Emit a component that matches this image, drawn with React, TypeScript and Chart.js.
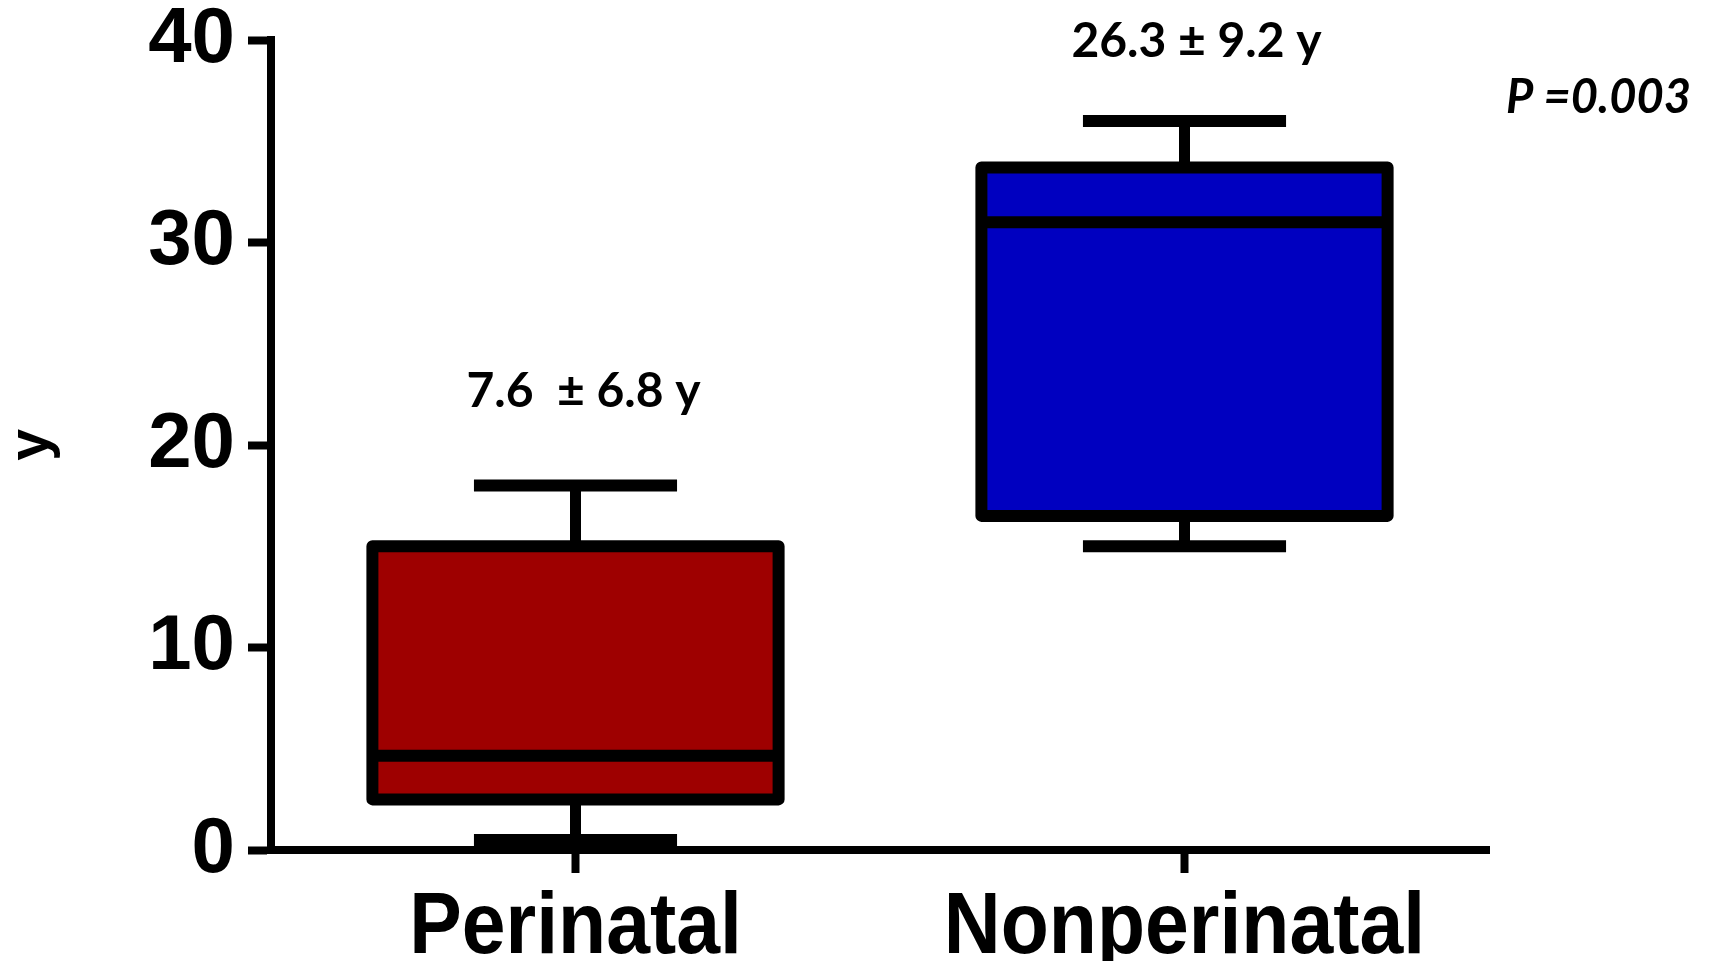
import React, { useEffect, useRef } from "react";
import { Chart, registerables } from "chart.js";

Chart.register(...registerables);

// ---- Data ----
const categories = ["Perinatal", "Nonperinatal"];
const whiskerMin = [0.5, 15];
const quartile1 = [2.5, 16.5];
const medians = [4.65, 31];
const quartile3 = [15, 33.7];
const whiskerMax = [18, 36];
const boxColors = ["#9e0000", "#0000c0"];
const summaryLabels = ["7.6  \u00b1 6.8 y", "26.3 \u00b1 9.2 y"];
const yTickValues = [0, 10, 20, 30, 40];
const yAxisTitle = "y";
const pValueLabel = "P =0.003";

const boxWhiskerPlugin = {
  id: "boxWhisker",
  afterDatasetsDraw(chart: any) {
    const ctx = chart.ctx;
    const ys = chart.scales.y;
    const meta = chart.getDatasetMeta(0);
    const line = (x1: number, y1: number, x2: number, y2: number) => {
      ctx.beginPath();
      ctx.moveTo(x1, y1);
      ctx.lineTo(x2, y2);
      ctx.stroke();
    };
    ctx.save();
    ctx.strokeStyle = "#000";
    meta.data.forEach((el: any, i: number) => {
      const { x, width } = el.getProps(["x", "width"], true);
      const half = width / 2;
      const pMin = ys.getPixelForValue(whiskerMin[i]);
      const pQ1 = ys.getPixelForValue(quartile1[i]);
      const pMed = ys.getPixelForValue(medians[i]);
      const pQ3 = ys.getPixelForValue(quartile3[i]);
      const pMax = ys.getPixelForValue(whiskerMax[i]);
      ctx.lineCap = "butt";
      ctx.lineWidth = 11;
      line(x, pMax, x, pQ3);
      line(x, pQ1, x, pMin);
      ctx.lineWidth = 12;
      line(x - half / 2, pMax, x + half / 2, pMax);
      line(x - half / 2, pMin, x + half / 2, pMin);
      ctx.lineJoin = "round";
      ctx.strokeRect(x - half, pQ3, width, pQ1 - pQ3);
      line(x - half, pMed, x + half, pMed);
    });
    ctx.restore();
  },
};

const annotationPlugin = {
  id: "annotations",
  afterDraw(chart: any) {
    const ctx = chart.ctx;
    const xs = chart.scales.x;
    const ys = chart.scales.y;
    const opts = chart.options.plugins.annotations;
    ctx.save();
    ctx.fillStyle = "#000";
    ctx.textBaseline = "alphabetic";
    ctx.textAlign = "center";

    // condensed category labels under the x axis
    ctx.font = opts.catFont;
    categories.forEach((txt, i) => {
      const px = xs.getPixelForValue(i);
      ctx.save();
      ctx.translate(px, opts.catBaseline);
      ctx.scale(opts.catScaleX, 1);
      ctx.fillText(txt, 0, 0);
      ctx.restore();
    });

    ctx.font = opts.summaryFont;
    summaryLabels.forEach((txt, i) => {
      const px = xs.getPixelForValue(i) + opts.summaryDx[i];
      const py = ys.getPixelForValue(opts.summaryY[i]);
      ctx.fillText(txt, px, py);
    });
    ctx.font = opts.pFont;
    ctx.textAlign = "right";
    ctx.fillText(pValueLabel, opts.pX, opts.pY);
    ctx.restore();
  },
};

export default function App() {
  const canvasRef = useRef<HTMLCanvasElement | null>(null);

  useEffect(() => {
    if (!canvasRef.current) return;
    const chart = new Chart(canvasRef.current, {
      type: "bar",
      data: {
        labels: categories,
        datasets: [
          {
            data: categories.map((_, i) => [quartile1[i], quartile3[i]]) as any,
            backgroundColor: boxColors,
            borderWidth: 0,
            categoryPercentage: 1,
            barPercentage: 0.667,
          },
        ],
      },
      options: {
        animation: false,
        responsive: true,
        maintainAspectRatio: false,
        events: [],
        layout: { padding: { top: 40, right: 225, left: 0, bottom: 0 } },
        plugins: {
          legend: { display: false },
          tooltip: { enabled: false },
          annotations: {
            catFont: "bold 88px 'Liberation Sans', Arial, sans-serif",
            catScaleX: 0.895,
            catBaseline: 953,
            summaryFont: "bold 48px Lato, 'Open Sans', sans-serif",
            summaryDx: [8, 12],
            summaryY: [21.9, 39.15],
            pFont: "italic bold 47px Lato, 'Open Sans', sans-serif",
            pX: 1691,
            pY: 113,
          },
        } as any,
        scales: {
          x: {
            offset: true,
            border: { display: true, color: "#000", width: 8 },
            grid: {
              display: true,
              offset: false,
              drawOnChartArea: false,
              drawTicks: true,
              tickLength: 23,
              tickWidth: 8,
              tickColor: "#000",
            },
            ticks: { display: false },
            afterFit: (s: any) => {
              s.height = 111;
            },
          },
          y: {
            min: 0,
            max: 40,
            afterBuildTicks: (s: any) => {
              s.ticks = yTickValues.map((v) => ({ value: v }));
            },
            border: { display: true, color: "#000", width: 8 },
            grid: {
              display: true,
              drawOnChartArea: false,
              drawTicks: true,
              tickLength: 23,
              tickWidth: 8,
              tickColor: "#000",
            },
            ticks: {
              color: "#000",
              padding: 13,
              font: {
                family: "'Liberation Sans', Arial, sans-serif",
                weight: "bold",
                size: 78,
                lineHeight: 0.65,
              },
            },
            title: {
              display: true,
              text: yAxisTitle,
              color: "#000",
              padding: { top: 4, bottom: 0 },
              font: {
                family: "'Liberation Sans', Arial, sans-serif",
                weight: "bold",
                size: 57,
                lineHeight: 1,
              },
            },
            afterFit: (s: any) => {
              s.width = 271;
            },
          },
        },
      },
      plugins: [boxWhiskerPlugin, annotationPlugin],
    });
    return () => chart.destroy();
  }, []);

  return (
    <div style={{ position: "absolute", left: 0, top: 0, width: 1714, height: 961, background: "#fff" }}>
      <canvas ref={canvasRef} />
    </div>
  );
}
